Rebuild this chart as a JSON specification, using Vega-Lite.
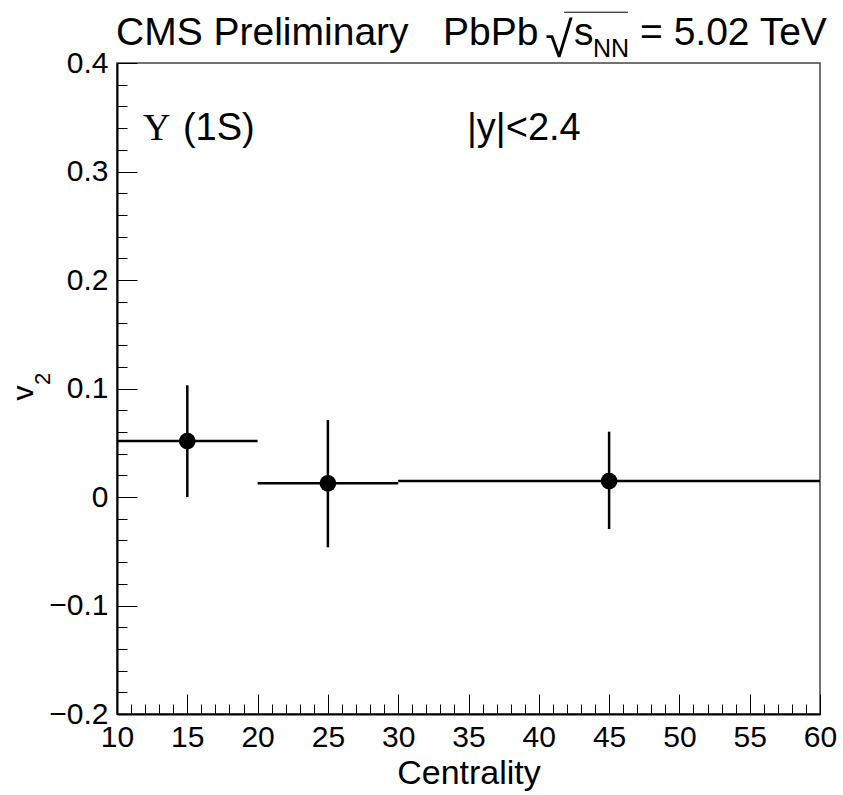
{
  "$schema": "https://vega.github.io/schema/vega-lite/v6.json",
  "width": 703,
  "height": 651,
  "autosize": {"type": "none"},
  "padding": {"left": 117, "top": 63, "right": 23, "bottom": 81},
  "background": "white",
  "config": {
    "font": "Liberation Sans",
    "view": {"stroke": "#444", "strokeWidth": 1.5},
    "axis": {"grid": false, "labelFont": "Liberation Sans", "titleFont": "Liberation Sans", "labelColor": "black", "titleColor": "black", "titleFontWeight": "normal", "tickColor": "black", "domainColor": "black"}
  },
  "datasets": {
    "points": [
      {"centrality": 15, "cent_lo": 10, "cent_hi": 20, "v2": 0.0515, "v2_lo": 0.0, "v2_hi": 0.103},
      {"centrality": 25, "cent_lo": 20, "cent_hi": 30, "v2": 0.0126, "v2_lo": -0.0464, "v2_hi": 0.071},
      {"centrality": 45, "cent_lo": 30, "cent_hi": 60, "v2": 0.0147, "v2_lo": -0.0295, "v2_hi": 0.0602}
    ],
    "title_big": [
      {"label": "CMS Preliminary", "x": 9.93, "y": 0.4166},
      {"label": "PbPb", "x": 33.19, "y": 0.4166},
      {"label": "s", "x": 42.5, "y": 0.4166},
      {"label": "= 5.02 TeV", "x": 47.2, "y": 0.4166}
    ],
    "title_sub": [{"label": "NN", "x": 43.85, "y": 0.4055}],
    "title_root": [{"label": "√", "x": 40.45, "y": 0.4055}],
    "title_bar": [{"x": 41.8, "x2": 46.34, "y": 0.4468}],
    "ann_sans": [
      {"label": "(1S)", "x": 14.69, "y": 0.329},
      {"label": "|y|<2.4", "x": 34.89, "y": 0.329}
    ],
    "ann_serif": [{"label": "Υ", "x": 11.85, "y": 0.329}],
    "ytitle_main": [{"label": "v", "x": 4.03, "y": 0.0959}],
    "ytitle_sub": [{"label": "2", "x": 5.235, "y": 0.1088}]
  },
  "layer": [
    {
      "data": {"name": "points"},
      "mark": {"type": "rule", "color": "black", "strokeWidth": 2.5},
      "encoding": {
        "x": {"field": "cent_lo", "type": "quantitative", "scale": {"domain": [10, 60], "nice": false, "zero": false},
          "axis": {"orient": "bottom", "values": [10,11,12,13,14,15,16,17,18,19,20,21,22,23,24,25,26,27,28,29,30,31,32,33,34,35,36,37,38,39,40,41,42,43,44,45,46,47,48,49,50,51,52,53,54,55,56,57,58,59,60],
            "tickSize": -10, "tickWidth": 1, "labels": false, "domain": false, "title": null}},
        "x2": {"field": "cent_hi"},
        "y": {"field": "v2", "type": "quantitative", "scale": {"domain": [-0.2, 0.4], "nice": false, "zero": false},
          "axis": {"orient": "left", "values": [-0.2,-0.18,-0.16,-0.14,-0.12,-0.1,-0.08,-0.06,-0.04,-0.02,0,0.02,0.04,0.06,0.08,0.1,0.12,0.14,0.16,0.18,0.2,0.22,0.24,0.26,0.28,0.3,0.32,0.34,0.36,0.38,0.4],
            "tickSize": -10, "tickWidth": 1, "labels": false, "domain": false, "title": null}}
      }
    },
    {
      "data": {"name": "points"},
      "mark": {"type": "rule", "color": "black", "strokeWidth": 2.5},
      "encoding": {
        "x": {"field": "centrality", "type": "quantitative", "scale": {"domain": [10, 60], "nice": false, "zero": false}, "axis": null},
        "y": {"field": "v2_lo", "type": "quantitative", "scale": {"domain": [-0.2, 0.4], "nice": false, "zero": false}, "axis": null},
        "y2": {"field": "v2_hi"}
      }
    },
    {
      "data": {"name": "points"},
      "mark": {"type": "point", "filled": true, "color": "black", "opacity": 1, "size": 280},
      "encoding": {
        "x": {"field": "centrality", "type": "quantitative", "scale": {"domain": [10, 60], "nice": false, "zero": false},
          "axis": {"orient": "bottom", "values": [10,15,20,25,30,35,40,45,50,55,60], "format": "d",
            "tickSize": -20, "tickWidth": 1, "domain": true, "domainWidth": 2,
            "labelFontSize": 30, "labelPadding": 28, "labelFlush": false, "labelOverlap": false,
            "title": "Centrality", "titleFontSize": 34, "titlePadding": 4}},
        "y": {"field": "v2", "type": "quantitative", "scale": {"domain": [-0.2, 0.4], "nice": false, "zero": false},
          "axis": {"orient": "left", "values": [-0.2,-0.1,0,0.1,0.2,0.3,0.4],
            "labelExpr": "datum.value == 0 ? '0' : format(datum.value, '.1f')",
            "tickSize": -20, "tickWidth": 1, "domain": true, "domainWidth": 2,
            "labelFontSize": 30, "labelPadding": 29, "labelFlush": false, "labelOverlap": false,
            "title": null}}
      }
    },
    {
      "data": {"name": "title_big"},
      "mark": {"type": "text", "align": "left", "baseline": "alphabetic", "fontSize": 39, "color": "black", "font": "Liberation Sans"},
      "encoding": {
        "x": {"field": "x", "type": "quantitative", "scale": {"domain": [10, 60], "nice": false, "zero": false}, "axis": null},
        "y": {"field": "y", "type": "quantitative", "scale": {"domain": [-0.2, 0.4], "nice": false, "zero": false}, "axis": null},
        "text": {"field": "label"}
      }
    },
    {
      "data": {"name": "title_sub"},
      "mark": {"type": "text", "align": "left", "baseline": "alphabetic", "fontSize": 25, "color": "black", "font": "Liberation Sans"},
      "encoding": {
        "x": {"field": "x", "type": "quantitative", "scale": {"domain": [10, 60], "nice": false, "zero": false}, "axis": null},
        "y": {"field": "y", "type": "quantitative", "scale": {"domain": [-0.2, 0.4], "nice": false, "zero": false}, "axis": null},
        "text": {"field": "label"}
      }
    },
    {
      "data": {"name": "title_root"},
      "mark": {"type": "text", "align": "left", "baseline": "alphabetic", "fontSize": 50, "color": "black", "font": "Liberation Sans"},
      "encoding": {
        "x": {"field": "x", "type": "quantitative", "scale": {"domain": [10, 60], "nice": false, "zero": false}, "axis": null},
        "y": {"field": "y", "type": "quantitative", "scale": {"domain": [-0.2, 0.4], "nice": false, "zero": false}, "axis": null},
        "text": {"field": "label"}
      }
    },
    {
      "data": {"name": "title_bar"},
      "mark": {"type": "rule", "color": "black", "strokeWidth": 1},
      "encoding": {
        "x": {"field": "x", "type": "quantitative", "scale": {"domain": [10, 60], "nice": false, "zero": false}, "axis": null},
        "x2": {"field": "x2"},
        "y": {"field": "y", "type": "quantitative", "scale": {"domain": [-0.2, 0.4], "nice": false, "zero": false}, "axis": null}
      }
    },
    {
      "data": {"name": "ann_sans"},
      "mark": {"type": "text", "align": "left", "baseline": "alphabetic", "fontSize": 38, "color": "black", "font": "Liberation Sans"},
      "encoding": {
        "x": {"field": "x", "type": "quantitative", "scale": {"domain": [10, 60], "nice": false, "zero": false}, "axis": null},
        "y": {"field": "y", "type": "quantitative", "scale": {"domain": [-0.2, 0.4], "nice": false, "zero": false}, "axis": null},
        "text": {"field": "label"}
      }
    },
    {
      "data": {"name": "ann_serif"},
      "mark": {"type": "text", "align": "left", "baseline": "alphabetic", "fontSize": 38, "color": "black", "font": "Liberation Serif"},
      "encoding": {
        "x": {"field": "x", "type": "quantitative", "scale": {"domain": [10, 60], "nice": false, "zero": false}, "axis": null},
        "y": {"field": "y", "type": "quantitative", "scale": {"domain": [-0.2, 0.4], "nice": false, "zero": false}, "axis": null},
        "text": {"field": "label"}
      }
    },
    {
      "data": {"name": "ytitle_main"},
      "mark": {"type": "text", "align": "center", "baseline": "alphabetic", "angle": 270, "fontSize": 30, "color": "black", "font": "Liberation Sans"},
      "encoding": {
        "x": {"field": "x", "type": "quantitative", "scale": {"domain": [10, 60], "nice": false, "zero": false}, "axis": null},
        "y": {"field": "y", "type": "quantitative", "scale": {"domain": [-0.2, 0.4], "nice": false, "zero": false}, "axis": null},
        "text": {"field": "label"}
      }
    },
    {
      "data": {"name": "ytitle_sub"},
      "mark": {"type": "text", "align": "center", "baseline": "alphabetic", "angle": 270, "fontSize": 22, "color": "black", "font": "Liberation Sans"},
      "encoding": {
        "x": {"field": "x", "type": "quantitative", "scale": {"domain": [10, 60], "nice": false, "zero": false}, "axis": null},
        "y": {"field": "y", "type": "quantitative", "scale": {"domain": [-0.2, 0.4], "nice": false, "zero": false}, "axis": null},
        "text": {"field": "label"}
      }
    }
  ],
  "resolve": {"axis": {"x": "independent", "y": "independent"}}
}
